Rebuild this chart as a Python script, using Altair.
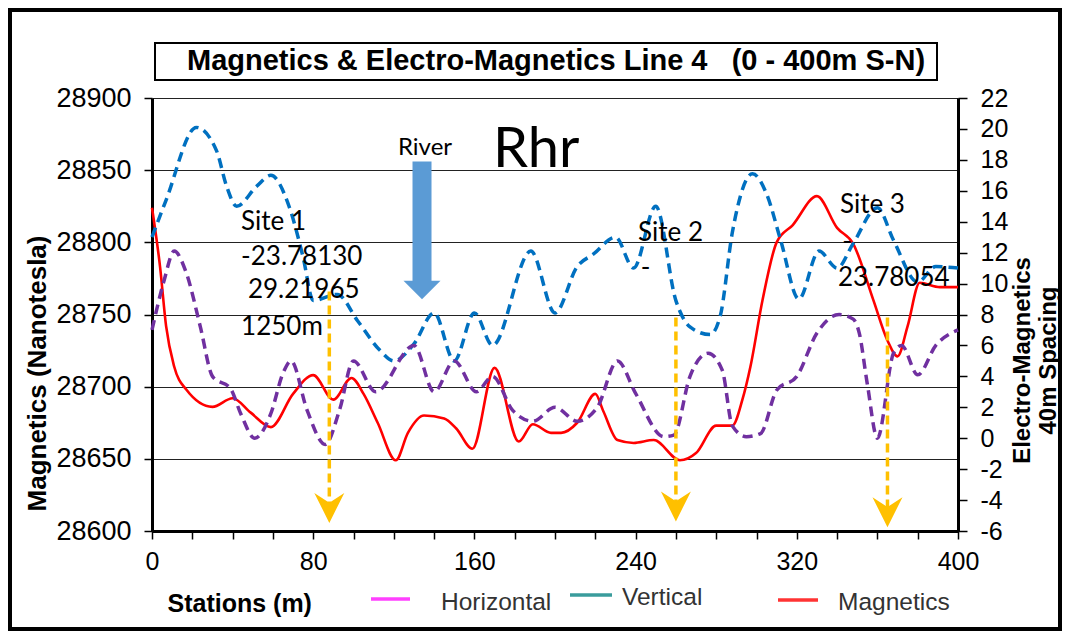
import altair as alt
import pandas as pd

# ---------------- data ----------------
# Magnetics (red, left axis, nT)
mag_st = [0, 4, 7, 11, 17, 30, 40, 49, 59, 70, 80, 90, 99, 105, 112, 121, 127, 135, 145, 151,
          159, 170, 182, 189, 198, 203, 211, 220, 224, 231, 239, 249, 262, 270, 280, 288, 293,
          297, 303, 310, 318, 330, 340, 348, 358, 365, 370, 375, 381, 391, 400]
mag_val = [28824, 28783, 28742, 28714, 28698, 28686, 28692, 28682, 28672, 28695, 28708, 28691,
           28706, 28695, 28675, 28649, 28668, 28680, 28678, 28671, 28657, 28713, 28662, 28674,
           28668, 28668, 28675, 28695, 28683, 28663, 28661, 28663, 28649, 28654, 28673, 28673,
           28691, 28714, 28760, 28800, 28812, 28832, 28810, 28799, 28760, 28732, 28721, 28742,
           28772, 28769, 28769]

# Electro-magnetics, blue dashed (right axis)
em1_st = [0, 7, 22, 32, 37, 42, 52, 59, 68, 75, 80, 92, 102, 113, 120, 130, 140, 150, 160, 169,
          188, 200, 211, 219, 230, 239, 250, 260, 267, 277, 282, 288, 298, 305, 312, 321, 331,
          340, 348, 360, 368, 380, 389, 400]
em1_val = [13.0, 15.4, 20.1, 18.6, 16.3, 15.0, 16.3, 17.0, 15.0, 11.7, 8.9, 9.3, 7.6, 5.7, 5.0,
           6.1, 8.1, 5.0, 8.1, 6.0, 12.1, 8.1, 11.1, 11.9, 13.0, 11.0, 15.0, 8.9, 7.2, 6.7, 7.9,
           13.3, 17.1, 15.8, 12.8, 9.0, 12.1, 11.0, 12.6, 14.9, 12.8, 10.1, 11.1, 11.0]

# Electro-magnetics, purple dashed (right axis)
em2_st = [0, 6, 11, 17, 24, 30, 39, 44, 51, 59, 65, 69, 77, 86, 93, 100, 111, 130, 140, 150,
          161, 169, 179, 189, 200, 211, 221, 231, 240, 254, 259, 267, 276, 283, 288, 295, 302,
          310, 320, 330, 341, 348, 351, 355, 360, 368, 372, 380, 389, 400]
em2_val = [7.0, 10.2, 12.1, 10.7, 7.2, 4.0, 3.2, 1.6, 0.0, 1.6, 4.2, 5.0, 1.8, -0.4, 1.8, 5.0,
           3.0, 6.0, 3.0, 5.0, 3.0, 4.0, 1.8, 1.1, 2.0, 1.1, 2.0, 5.0, 2.9, 0.1, 0.2, 4.0, 5.5,
           4.4, 0.8, 0.1, 0.3, 3.1, 4.0, 6.8, 8.0, 7.7, 6.8, 3.5, 0.0, 5.5, 6.0, 4.1, 6.0, 7.0]

# Site arrows (station, top value, arrow-head value; in nT)
site_st = [88, 260, 365]
site_top = [28766, 28748, 28748]
site_head = [28616, 28617, 28613]

# River arrow
river_st = [134]
river_top = [28856]
river_shaft_end = [28772]
river_head = [28767]

# Annotations (label, station, nT)
ann_labels = ["Site 1", "-23.78130", "29.21965", "1250m", "Site 2", "-", "Site 3", "-", "23.78054"]
ann_st = [44.2, 44.2, 47.6, 44.2, 241.2, 242.5, 341.4, 342.5, 340.4]
ann_val = [28814, 28790, 28767, 28741, 28806.5, 28782, 28826, 28800, 28775]

big_labels = ["River", "Rhr"]
big_st = [135.5, 169.2]
big_val = [28865.5, 28864]

x_ticks = list(range(0, 401, 20))
mag_ticks = list(range(28600, 28901, 50))
em_ticks = list(range(-6, 23, 2))

MAG_DOMAIN = [28600, 28900]
EM_DOMAIN = [-6, 22]

W, H = 806, 433
AX_FONT = "Liberation Sans"
CAL = "Lato"

xs = alt.Scale(domain=[0, 400], nice=False, zero=False)
mag_scale = alt.Scale(domain=MAG_DOMAIN, nice=False, zero=False)
em_scale = alt.Scale(domain=EM_DOMAIN, nice=False, zero=False)

x_axis = alt.Axis(
    values=x_ticks, labelExpr="datum.value % 80 == 0 ? datum.label : ''",
    title="Stations (m)", titleFont=AX_FONT, titleFontSize=25, titleFontWeight="bold",
    titleColor="#000", titleAlign="left", titleAnchor="start", titleX=15, titleY=72,
    titleBaseline="middle",
    labelFont=AX_FONT, labelFontSize=25, labelColor="#000", labelPadding=10,
    tickSize=8, tickColor="#000", tickWidth=1.5, domainColor="#000", domainWidth=3,
    grid=False, labelFlush=False, labelOverlap=False)
X = alt.X("station:Q", scale=xs, axis=x_axis)

y_mag_plain = alt.Y("value:Q", scale=mag_scale, axis=None)
y_em_plain = alt.Y("value:Q", scale=em_scale, axis=None)

mag_df = pd.DataFrame({"station": mag_st, "value": mag_val})
em1_df = pd.DataFrame({"station": em1_st, "value": em1_val})
em2_df = pd.DataFrame({"station": em2_st, "value": em2_val})

mag_line = alt.Chart(mag_df).mark_line(
    color="#FF0000", strokeWidth=2.6, interpolate="monotone"
).encode(
    x=X,
    y=alt.Y("value:Q", scale=mag_scale, axis=alt.Axis(
        orient="left", values=mag_ticks, labelExpr="'' + datum.value", grid=True,
        gridColor="#222", gridWidth=1.2, title="Magnetics (Nanotesla)", titleFont=AX_FONT,
        titleFontSize=26, titleFontWeight="bold", titleColor="#000", titleAngle=270,
        titleX=-115, titleY=275, titleAlign="center", titleBaseline="middle",
        labelFont=AX_FONT, labelFontSize=27, labelColor="#000", labelPadding=13,
        tickSize=8, tickColor="#000", tickWidth=1.5, domainColor="#000", domainWidth=3,
        labelFlush=False, labelOverlap=False)),
)

em1_line = alt.Chart(em1_df).mark_line(
    color="#0070C0", strokeWidth=3.5, strokeDash=[10, 6], interpolate="monotone"
).encode(
    x=X,
    y=alt.Y("value:Q", scale=em_scale, axis=alt.Axis(
        orient="right", values=em_ticks, labelExpr="'' + datum.value", grid=False,
        title=["Electro-Magnetics", "40m Spacing"], titleFont=AX_FONT, titleFontSize=24,
        titleFontWeight="bold", titleColor="#000", titleAngle=270, titleX=64, titleY=262,
        titleAlign="center", titleBaseline="middle", titleLineHeight=26,
        labelFont=AX_FONT, labelFontSize=25, labelColor="#000", labelPadding=13,
        tickSize=9, tickColor="#000", tickWidth=1.5, domainColor="#000", domainWidth=3,
        labelFlush=False, labelOverlap=False)),
)

em2_line = alt.Chart(em2_df).mark_line(
    color="#7030A0", strokeWidth=3.5, strokeDash=[10, 6], interpolate="monotone"
).encode(x=X, y=y_em_plain)

# site arrows
site_df = pd.DataFrame({"station": site_st, "top": site_top, "head": site_head})
site_rule = alt.Chart(site_df).mark_rule(
    color="#FFC000", strokeWidth=3.5, strokeDash=[9, 5]
).encode(x=X, y=alt.Y("top:Q", scale=mag_scale, axis=None), y2="head:Q")
site_head_pt = alt.Chart(site_df).mark_point(
    shape="M -1 -1 L 0 -0.35 L 1 -1 L 0 1 Z", filled=True, color="#FFC000",
    opacity=1, size=900
).encode(x=X, y=alt.Y("head:Q", scale=mag_scale, axis=None))

# river arrow
river_df = pd.DataFrame({"station": river_st, "top": river_top, "shaft": river_shaft_end,
                         "head": river_head})
river_rule = alt.Chart(river_df).mark_rule(
    color="#5B9BD5", strokeWidth=19, strokeCap="butt"
).encode(x=X, y=alt.Y("top:Q", scale=mag_scale, axis=None), y2="shaft:Q")
river_head_pt = alt.Chart(river_df).mark_point(
    shape="M -1 -0.5 L 1 -0.5 L 0 0.5 Z", filled=True, color="#5B9BD5", opacity=1, size=1369
).encode(x=X, y=alt.Y("head:Q", scale=mag_scale, axis=None))

ann_df = pd.DataFrame({"label": ann_labels, "station": ann_st, "value": ann_val})
ann_text = alt.Chart(ann_df).mark_text(
    font=CAL, fontSize=26, align="left", baseline="middle", color="#000"
).encode(x=X, y=y_mag_plain, text="label:N")

big_df = pd.DataFrame({"label": big_labels, "station": big_st, "value": big_val})
river_text = alt.Chart(big_df).transform_filter("datum.label == 'River'").mark_text(
    font=CAL, fontSize=24, align="center", baseline="middle", color="#000"
).encode(x=X, y=y_mag_plain, text="label:N")
rhr_text = alt.Chart(big_df).transform_filter("datum.label == 'Rhr'").mark_text(
    font=CAL, fontSize=56, align="left", baseline="middle", color="#000"
).encode(x=X, y=y_mag_plain, text="label:N")

# ---------- decorations (title box, legend, frame) ----------
one = pd.DataFrame({"k": [0]})
frame = alt.Chart(one).mark_rect(fill=None, stroke="#000", strokeWidth=4).encode(
    x=alt.value(-142), x2=alt.value(908), y=alt.value(-88), y2=alt.value(531))
title_box = alt.Chart(one).mark_rect(fill="#fff", stroke="#000", strokeWidth=2).encode(
    x=alt.value(3), x2=alt.value(785), y=alt.value(-55), y2=alt.value(-18))
NB = "\u00a0"
title_text = alt.Chart(one).mark_text(
    text="Magnetics & Electro-Magnetics Line 4" + NB * 3 + "(0 - 400m S-N)", font=AX_FONT,
    fontSize=29, fontWeight="bold", align="center", baseline="middle", color="#000"
).encode(x=alt.value(404), y=alt.value(-37))

legend_names = ["Horizontal", "Vertical", "Magnetics"]
legend_colors = ["#FF40FF", "#3A9C9C", "#FF3333"]
leg_layers = []
leg_pos = [(219, 258, 501, 289, 505), (418, 460, 497, 470, 500), (626, 666, 502, 686, 505)]
for name, col, (x1, x2, ly, tx, ty) in zip(legend_names, legend_colors, leg_pos):
    leg_layers.append(alt.Chart(one).mark_rule(color=col, strokeWidth=3.5).encode(
        x=alt.value(x1), x2=alt.value(x2), y=alt.value(ly)))
    leg_layers.append(alt.Chart(one).mark_text(
        text=name, font=AX_FONT, fontSize=24.5, align="left", baseline="middle",
        color="#333").encode(x=alt.value(tx), y=alt.value(ty)))

chart = alt.layer(
    mag_line, em1_line, em2_line, site_rule, site_head_pt, river_rule, river_head_pt,
    ann_text, river_text, rhr_text, frame, title_box, title_text, *leg_layers
).resolve_scale(y="independent").properties(
    width=W, height=H,
    autosize=alt.AutoSizeParams(type="none"),
    padding={"left": 144, "top": 90, "right": 104, "bottom": 100},
).configure_view(stroke="#000", strokeWidth=2).configure(background="#ffffff")

chart.save("out.html", embed_options={"renderer": "svg", "actions": False})
